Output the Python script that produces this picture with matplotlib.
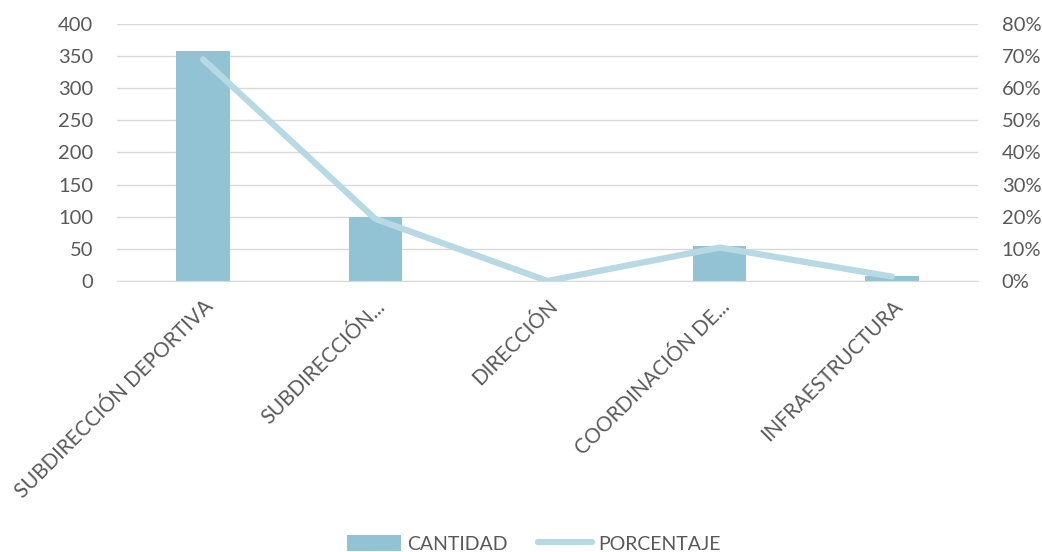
import matplotlib.pyplot as plt
from matplotlib.ticker import FuncFormatter

categorias = ["SUBDIRECCIÓN DEPORTIVA", "SUBDIRECCIÓN...", "DIRECCIÓN",
              "COORDINACIÓN DE...", "INFRAESTRUCTURA"]
cantidad = [357, 100, 0, 54, 7]
porcentaje = [0.689, 0.193, 0.0, 0.104, 0.0135]

plt.rcParams['font.family'] = ['Lato', 'DejaVu Sans']
gris = '#595959'

fig = plt.figure(figsize=(10.42, 5.52), dpi=100)
ax = fig.add_axes([0.1123, 0.491, 0.8263, 0.466])
ax2 = ax.twinx()

x = list(range(len(categorias)))
ax.bar(x, cantidad, width=0.31, color='#92C3D4', label='CANTIDAD', zorder=2)
ax2.plot(x, porcentaje, color='#B7D9E4', lw=4.5, solid_capstyle='round',
         label='PORCENTAJE', zorder=3)

ax.set_xlim(-0.5, 4.5)
ax.set_ylim(0, 400)
ax.set_yticks(range(0, 401, 50))
ax2.set_ylim(0, 0.8)
ax2.set_yticks([i / 10 for i in range(9)])
ax2.yaxis.set_major_formatter(FuncFormatter(lambda v, p: f"{v*100:.0f}%"))

ax.yaxis.grid(True, color='#D9D9D9', lw=1, zorder=0)
ax.set_axisbelow(True)
for a in (ax, ax2):
    for s in a.spines.values():
        s.set_visible(False)
    a.tick_params(length=0, labelsize=14.5, colors=gris)
ax.tick_params(axis='y', pad=17)
ax2.tick_params(axis='y', pad=17)
ax.spines['bottom'].set_visible(True)
ax.spines['bottom'].set_color('#D9D9D9')

ax.set_xticks(x)
ax.set_xticklabels(categorias, rotation=45, ha='right', rotation_mode='anchor')
ax.tick_params(axis='x', pad=11, labelsize=14.8)

ax.set_zorder(ax2.get_zorder() - 1)
ax.patch.set_visible(False)
ax2.patch.set_visible(False)

h1, l1 = ax.get_legend_handles_labels()
h2, l2 = ax2.get_legend_handles_labels()
fig.legend(h1 + h2, l1 + l2, loc='lower center', bbox_to_anchor=(0.512, -0.033),
           ncol=2, frameon=False, fontsize=14, labelcolor=gris,
           handlelength=2.8, handleheight=0.9, columnspacing=1.55, handletextpad=0.3)

fig.savefig('out.png', dpi=100)
